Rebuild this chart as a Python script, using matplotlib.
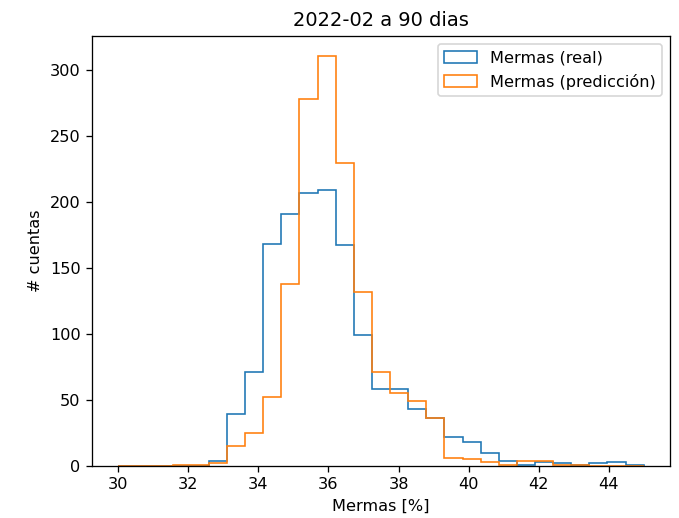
import numpy as np
from matplotlib import pyplot as plt

# 29 bins of equal width between 30 and 45 (%)
edges = np.linspace(30, 45, 30)

real = [0, 0, 0, 0, 0, 4, 39, 71, 168, 191, 207, 209, 167, 99, 58,
        58, 43, 36, 22, 18, 10, 4, 1, 3, 2, 1, 2, 3, 1]
pred = [0, 0, 0, 1, 1, 2, 15, 25, 52, 138, 278, 310, 229, 132, 71,
        55, 49, 36, 6, 5, 3, 1, 4, 4, 1, 1, 0, 0, 0]

dpi = 116.5
fig, ax = plt.subplots(figsize=(679 / dpi, 518 / dpi), dpi=dpi)
fig.subplots_adjust(left=0.1355, right=0.9867, top=0.9305, bottom=0.1004)

ax.hist(edges[:-1], bins=edges, weights=real, histtype='step', label='Mermas (real)')
ax.hist(edges[:-1], bins=edges, weights=pred, histtype='step', label='Mermas (predicción)')

ax.set_title("2022-02 a 90 dias")
ax.set_xlabel("Mermas [%]")
ax.set_ylabel("# cuentas")
ax.legend()

fig.savefig("out.png", dpi=dpi)
